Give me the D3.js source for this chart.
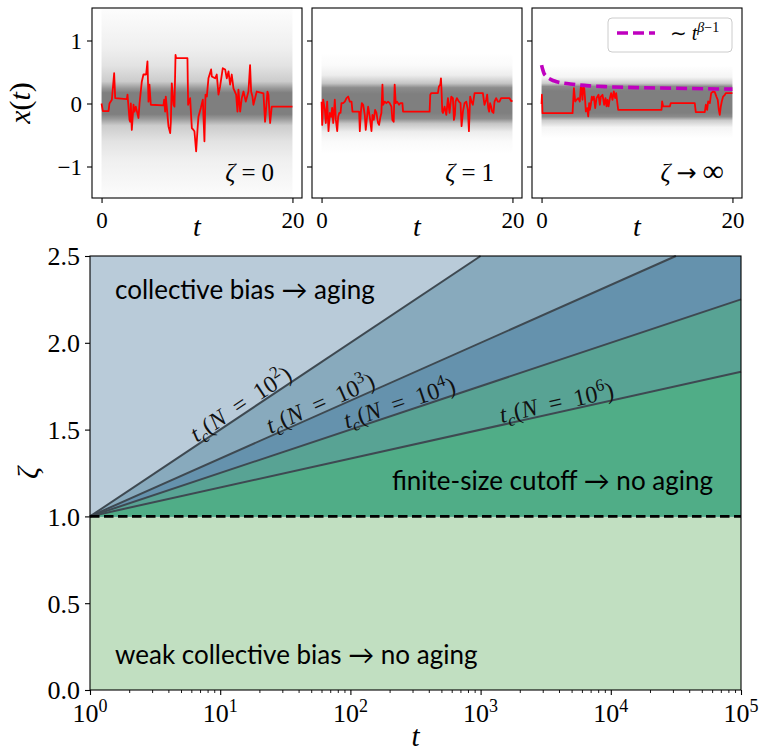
<!DOCTYPE html>
<html>
<head>
<meta charset="utf-8">
<script src="https://cdn.jsdelivr.net/npm/d3@7"></script>
<style>
  body { margin: 0; background: #fff; }
  svg, svg text { font-family: "Liberation Serif", "DejaVu Serif", serif; }
  svg text.sans { font-family: Lato, "DejaVu Sans", sans-serif; }
</style>
</head>
<body>
<div id="chart"></div>
<script>
// ---- top panels: single trajectories (t, x) ----
const traj0 = [[0,0],[0.14,-0.12],[0.73,-0.12],[0.83,0],[1.08,0.06],[1.32,0.48],[1.43,0.085],[2.65,0.07],[2.72,0.14],[2.93,-0.26],[3.0,-0.29],[3.07,0],[3.17,-0.42],[3.35,-0.02],[3.45,-0.13],[3.59,-0.05],[3.87,-0.23],[3.98,0],[4.22,0.35],[4.39,0.46],[4.67,0.46],[4.81,0.67],[4.92,0.03],[5.02,0.3],[5.16,-0.02],[6.49,-0.03],[6.56,0.06],[6.66,-0.13],[6.73,0.11],[6.84,-0.07],[7.01,-0.36],[7.19,-0.47],[7.26,-0.29],[7.36,0.32],[7.54,-0.02],[7.64,-0.05],[7.75,0.77],[7.81,0.72],[9.0,0.72],[9.07,-0.02],[9.28,0.085],[9.46,-0.39],[9.63,-0.42],[9.73,-0.44],[9.91,-0.76],[10.05,-0.42],[10.15,-0.21],[10.4,-0.07],[10.61,0.06],[10.78,-0.6],[10.89,0.14],[11.03,0.11],[11.2,0.4],[11.48,0.54],[11.55,0.43],[11.9,0.4],[12.07,0.46],[12.25,0.14],[12.42,0.27],[12.7,0.56],[12.95,0.54],[13.12,0.4],[13.3,0.51],[13.47,0.3],[13.64,0.46],[13.82,0.24],[14.1,0.14],[14.24,-0.13],[14.34,0.22],[14.52,-0.13],[14.69,0.085],[14.87,0.19],[15.11,0.03],[15.39,0.19],[15.56,0.61],[15.67,0.19],[15.81,0.11],[15.91,-0.02],[16.26,0.19],[16.96,0.16],[17.13,-0.29],[17.38,0.19],[17.48,0.14],[17.66,-0.31],[17.83,-0.05],[20,-0.05]];

const traj1 = [[0,0.03],[0.07,-0.34],[0.17,0.06],[0.35,-0.1],[0.45,-0.31],[0.59,0.03],[0.73,-0.44],[0.87,-0.15],[1.01,-0.21],[1.11,-0.07],[1.22,-0.31],[1.39,0.06],[1.5,-0.26],[1.64,-0.44],[1.74,-0.21],[1.85,-0.15],[1.99,-0.15],[2.09,0.005],[2.26,0.005],[2.44,0.03],[2.61,0.085],[2.79,0.11],[2.96,0.03],[3.14,0.03],[3.24,-0.13],[3.94,-0.13],[4.01,-0.44],[4.11,-0.15],[4.22,0.005],[4.36,-0.02],[4.53,-0.18],[4.63,-0.42],[4.77,-0.21],[4.88,-0.05],[5.05,-0.21],[5.23,-0.44],[5.33,-0.18],[5.47,-0.26],[5.61,-0.1],[5.75,-0.15],[5.92,-0.31],[6.03,-0.34],[6.17,-0.21],[6.27,-0.15],[6.38,0.3],[6.45,-0.02],[6.62,0.03],[6.79,0.005],[6.97,0.03],[7.14,0.005],[7.32,-0.05],[7.42,-0.26],[7.56,-0.29],[7.66,0.3],[7.77,0.005],[7.91,0.03],[8.12,-0.02],[8.26,0.005],[8.47,0.005],[8.54,-0.13],[11.32,-0.13],[11.39,0.14],[11.5,0.165],[12.19,0.165],[12.3,0.27],[12.44,0.3],[12.51,0.4],[12.58,0.165],[12.65,-0.13],[12.72,-0.15],[12.89,-0.05],[13.07,-0.18],[13.24,0.085],[13.41,-0.15],[13.59,0.11],[13.76,0.085],[13.87,-0.26],[13.97,-0.18],[14.04,0.03],[14.18,0.085],[14.39,0.03],[14.56,0.005],[14.67,-0.36],[14.81,-0.13],[14.98,0.005],[15.16,0.03],[15.33,-0.1],[15.44,-0.44],[15.57,0.11],[15.71,0.03],[15.85,-0.02],[16.03,0.165],[16.9,0.165],[17.07,-0.02],[17.25,0.06],[17.35,0.14],[17.46,-0.07],[17.56,-0.13],[17.66,0.005],[17.77,-0.05],[17.87,-0.13],[18.01,-0.15],[18.12,0.03],[18.29,0.085],[18.47,0.03],[18.64,0.03],[18.81,0.085],[19.69,0.085],[19.86,0.04],[20,0.04]];

const trajInf = [[0,-0.01],[0.04,0.14],[0.1,-0.153],[3.25,-0.153],[3.39,0.244],[3.53,0.032],[3.66,0.059],[3.84,0.085],[4.01,0.032],[4.12,0.27],[4.22,0.19],[4.29,0.059],[4.36,0.27],[4.47,0.244],[4.54,0.11],[4.64,-0.126],[4.78,-0.073],[4.89,-0.206],[4.99,0.006],[5.06,-0.1],[5.16,-0.02],[5.27,0.11],[5.34,0.059],[5.48,0.11],[5.62,-0.073],[5.76,0.085],[5.86,0.11],[5.97,0.138],[6.11,-0.02],[6.21,0.11],[6.39,0.138],[6.56,-0.02],[6.7,0.085],[6.81,-0.047],[6.91,0.059],[7.02,-0.047],[7.16,0.085],[7.29,0.165],[7.43,0.059],[7.57,0.191],[7.71,0.085],[7.82,0.165],[7.92,0.032],[8.03,-0.1],[12.57,-0.1],[12.63,0.032],[12.74,-0.047],[13.44,-0.047],[13.54,0.006],[16.05,0.006],[16.16,-0.137],[17.1,-0.137],[17.21,-0.02],[17.35,-0.1],[17.45,0.032],[17.63,0.006],[17.77,0.165],[17.98,0.191],[18.15,0.18],[18.32,0.11],[18.46,0.059],[18.57,-0.1],[18.67,-0.18],[18.78,-0.047],[18.88,0.032],[19.02,0.11],[19.2,0.138],[19.3,0.165],[20,0.165]];

// envelope ~ t^(beta-1), sampled from the dashed magenta curve
const envT = [0, 0.1, 0.25, 0.5, 1, 1.5, 3, 5, 7, 10, 14, 17, 20];
const envX = [0.61, 0.55, 0.48, 0.43, 0.38, 0.35, 0.31, 0.28, 0.265, 0.252, 0.242, 0.234, 0.228];

// ensemble spread: x level and grey density at that level
const band0 = [[1.5,0.02],[1.2,0.07],[0.9,0.12],[0.6,0.22],[0.35,0.4],[0.24,0.8],[0.17,1],[-0.17,1],[-0.24,0.8],[-0.35,0.4],[-0.6,0.22],[-0.9,0.12],[-1.2,0.07],[-1.5,0.02]];
const band1 = [[0.8,0],[0.6,0.04],[0.45,0.14],[0.32,0.45],[0.25,0.9],[0.15,1],[-0.15,1],[-0.24,0.9],[-0.32,0.45],[-0.45,0.14],[-0.6,0.04],[-0.8,0]];
const bandInf = [[0.6,0],[0.42,0.08],[0.32,0.4],[0.27,0.9],[0.2,1],[-0.15,1],[-0.21,0.9],[-0.27,0.4],[-0.38,0.08],[-0.55,0]];

const panelLabels = [["=", "0"], ["=", "1"], ["\u2192", "\u221e"]];
const panelTicksX = [0, 20];
const panelTicksY = [-1, 0, 1];

// ---- main phase diagram ----
const zetaTicks = [0, 0.5, 1, 1.5, 2, 2.5];
const decades = [0, 1, 2, 3, 4, 5];
const sizeExp = [2, 3, 4, 6];                     // N = 10^k
const lineEndT = [1e3, Math.pow(10, 4.5), 1e5, 1e5];   // where each t_c line leaves the frame
const lineEndZ = [2.5, 2.5, 2.25, 1.833];
const labelT = [Math.pow(10, 1.2), Math.pow(10, 1.8), Math.pow(10, 2.4), Math.pow(10, 3.6)];
const labelZ = [1.6, 1.6, 1.6, 1.6];
const regionColors = ["#b9cbd9", "#88aabd", "#6592ad", "#58a394", "#50ad87"];
const lowColor = "#c1dfc1";

const SERIF = '"Liberation Serif", "DejaVu Serif", serif';
const W = 761, H = 754;
const svg = d3.select("#chart").append("svg").attr("width", W).attr("height", H)
  .style("font-family", SERIF);
const defs = svg.append("defs");

// ================= top row =================
const panels = [
  { x0: 92, traj: traj0, band: band0 },
  { x0: 312, traj: traj1, band: band1 },
  { x0: 532, traj: trajInf, band: bandInf }
];
const pw = 210, pTop = 8, pBot = 198;

panels.forEach((p, i) => {
  const x = d3.scaleLinear().domain([-1, 21]).range([p.x0, p.x0 + pw]);
  const y = d3.scaleLinear().domain([-1.5, 1.5]).range([pBot, pTop + 1]);
  const g = svg.append("g");

  // grey cloud of trajectories
  const gid = "band" + i;
  const lo = d3.min(p.band, d => d[0]), hi = d3.max(p.band, d => d[0]);
  defs.append("linearGradient").attr("id", gid)
    .attr("gradientUnits", "userSpaceOnUse")
    .attr("x1", 0).attr("x2", 0).attr("y1", y(hi)).attr("y2", y(lo))
    .selectAll("stop").data(p.band).enter().append("stop")
      .attr("offset", d => (hi - d[0]) / (hi - lo))
      .attr("stop-color", "#7f7f7f")
      .attr("stop-opacity", d => d[1]);
  g.append("rect")
    .attr("x", x(0)).attr("width", x(20) - x(0))
    .attr("y", Math.max(y(hi), pTop)).attr("height", Math.min(y(lo), pBot) - Math.max(y(hi), pTop))
    .attr("fill", `url(#${gid})`);

  g.append("path").datum(p.traj)
    .attr("fill", "none").attr("stroke", "red").attr("stroke-width", 1.8)
    .attr("stroke-linejoin", "round")
    .attr("d", d3.line().x(d => x(d[0])).y(d => y(d[1])));

  if (i === 2) {
    g.append("path").datum(d3.zip(envT, envX))
      .attr("fill", "none").attr("stroke", "#bf00bf").attr("stroke-width", 3.6)
      .attr("stroke-dasharray", "11,5")
      .attr("d", d3.line().curve(d3.curveMonotoneX).x(d => x(d[0])).y(d => y(d[1])));
  }

  // frame
  g.append("rect").attr("x", p.x0).attr("y", pTop).attr("width", pw).attr("height", pBot - pTop)
    .attr("fill", "none").attr("stroke", "#000").attr("stroke-width", 1.1);

  // ticks
  const ax = g.append("g").attr("transform", `translate(0,${pBot})`)
    .call(d3.axisBottom(x).tickValues(panelTicksX).tickSize(5).tickPadding(5).tickFormat(d3.format("d")));
  const ay = g.append("g").attr("transform", `translate(${p.x0},0)`)
    .call(d3.axisLeft(y).tickValues(panelTicksY).tickSize(5).tickPadding(5)
      .tickFormat(i === 0 ? (d => d < 0 ? "\u2212" + Math.abs(d) : d) : ""));
  [ax, ay].forEach(a => {
    a.attr("font-family", null).attr("font-size", null);
    a.select(".domain").remove();
    a.selectAll("line").attr("stroke-width", 1.1);
    a.selectAll("text").style("font-family", SERIF).style("font-size", "23px");
  });
  ax.selectAll("text").attr("dy", null).attr("y", 30);
  ay.selectAll("text").attr("dy", "0.34em");

  g.append("text").attr("x", x(10)).attr("y", 236).attr("text-anchor", "middle")
    .style("font-size", "28px").style("font-style", "italic").text("t");

  const lab = g.append("text").attr("x", p.x0 + pw - (i === 2 ? 18 : 28)).attr("y", 181)
    .attr("text-anchor", "end").style("font-size", "25px");
  lab.append("tspan").style("font-style", "italic").text("\u03b6");
  if (i === 2) {
    lab.append("tspan").attr("dx", 6).style("font-family", '"DejaVu Sans", sans-serif')
      .style("font-size", "24px").text(panelLabels[i][0]);
    lab.append("tspan").attr("dx", 6).style("font-size", "30px").text(panelLabels[i][1]);
  } else {
    lab.append("tspan").attr("dx", 6).text(panelLabels[i][0]);
    lab.append("tspan").attr("dx", 6).text(panelLabels[i][1]);
  }
});

// y label x(t)
const xl = svg.append("text").attr("transform", "translate(30,103) rotate(-90)")
  .attr("text-anchor", "middle").style("font-size", "30px");
xl.append("tspan").style("font-style", "italic").text("x");
xl.append("tspan").text("(");
xl.append("tspan").style("font-style", "italic").text("t");
xl.append("tspan").text(")");

// legend in third panel
const lg = svg.append("g").attr("transform", "translate(608,18)");
lg.append("rect").attr("width", 124).attr("height", 34).attr("rx", 4)
  .attr("fill", "#fff").attr("fill-opacity", 0.8).attr("stroke", "#cccccc");
lg.append("line").attr("x1", 9).attr("x2", 47).attr("y1", 15).attr("y2", 15)
  .attr("stroke", "#bf00bf").attr("stroke-width", 3.6).attr("stroke-dasharray", "11,5");
const lt = lg.append("text").attr("x", 62).attr("y", 22).style("font-size", "20px");
lt.append("tspan").style("font-family", '"DejaVu Sans", sans-serif').text("\u223c");
lt.append("tspan").attr("dx", 5).style("font-style", "italic").text("t");
lt.append("tspan").attr("dy", -8).style("font-size", "14px").style("font-style", "italic").text("\u03b2");
lt.append("tspan").style("font-size", "14px").text("\u22121");

// ================= main plot =================
const mL = 90, mR = 741, mT = 256, mB = 690;
const x = d3.scaleLog().domain([1, 1e5]).range([mL, mR]);
const y = d3.scaleLinear().domain([0, 2.5]).range([mB, mT]);
const m = svg.append("g");

m.append("rect").attr("x", mL).attr("y", y(1)).attr("width", mR - mL).attr("height", y(0) - y(1)).attr("fill", lowColor);
m.append("rect").attr("x", mL).attr("y", mT).attr("width", mR - mL).attr("height", y(1) - mT).attr("fill", regionColors[0]);

// bands between successive t_c lines
const poly = d3.line().x(d => x(d[0])).y(d => y(d[1]));
sizeExp.forEach((k, i) => {
  const pts = [[1, 1], [lineEndT[i], lineEndZ[i]]];
  if (lineEndT[i] < 1e5) pts.push([1e5, 2.5]);
  pts.push([1e5, 1]);
  m.append("path").attr("d", poly(pts) + "Z").attr("fill", regionColors[i + 1]);
});
sizeExp.forEach((k, i) => {
  m.append("path").attr("d", poly([[1, 1], [lineEndT[i], lineEndZ[i]]]))
    .attr("fill", "none").attr("stroke", "#3e4951").attr("stroke-width", 2);
});

// line labels
sizeExp.forEach((k, i) => {
  const ang = Math.atan2(y(lineEndZ[i]) - y(1), x(lineEndT[i]) - x(1)) * 180 / Math.PI;
  const t = m.append("text")
    .attr("transform", `translate(${x(labelT[i])},${y(labelZ[i])}) rotate(${ang})`)
    .attr("text-anchor", "middle").attr("y", -2).style("font-size", "24px").attr("fill", "#111");
  t.append("tspan").style("font-style", "italic").text("t");
  t.append("tspan").attr("dy", 5).style("font-size", "17px").style("font-style", "italic").text("c");
  t.append("tspan").attr("dy", -5).text("(");
  t.append("tspan").style("font-style", "italic").text("N");
  t.append("tspan").text("\u2002=\u200210");
  t.append("tspan").attr("dy", -10).style("font-size", "17px").text(k);
  t.append("tspan").attr("dy", 10).text(")");
});

m.append("line").attr("x1", mL).attr("x2", mR).attr("y1", y(1)).attr("y2", y(1))
  .attr("stroke", "#000").attr("stroke-width", 2.8).attr("stroke-dasharray", "9.5,4.5");

// region annotations
m.append("text").attr("class", "sans").attr("x", 115).attr("y", 299).style("font-size", "26px")
  .text("collective bias \u2192 aging");
m.append("text").attr("class", "sans").attr("x", 713).attr("y", 490).attr("text-anchor", "end").style("font-size", "26px")
  .text("finite-size cutoff \u2192 no aging");
m.append("text").attr("class", "sans").attr("x", 115).attr("y", 664).style("font-size", "26px")
  .text("weak collective bias \u2192 no aging");

m.append("rect").attr("x", mL).attr("y", mT).attr("width", mR - mL).attr("height", mB - mT)
  .attr("fill", "none").attr("stroke", "#000").attr("stroke-width", 1.1);

// axes
const ay = m.append("g").attr("transform", `translate(${mL},0)`)
  .call(d3.axisLeft(y).tickValues(zetaTicks).tickSize(5).tickPadding(5).tickFormat(d3.format(".1f")));
ay.attr("font-family", null).attr("font-size", null);
ay.select(".domain").remove();
ay.selectAll("line").attr("stroke-width", 1.1);
ay.selectAll("text").attr("dy", "0.34em").style("font-family", SERIF).style("font-size", "26px");

const isDecade = v => Math.abs(Math.log10(v) - Math.round(Math.log10(v))) < 1e-6;
const axm = m.append("g").attr("transform", `translate(0,${mB})`)
  .call(d3.axisBottom(x).tickValues(x.ticks().filter(v => !isDecade(v))).tickSize(3).tickFormat(""));
axm.select(".domain").remove();
axm.selectAll("line").attr("stroke-width", 0.9);
const axM = m.append("g").attr("transform", `translate(0,${mB})`)
  .call(d3.axisBottom(x).tickValues(decades.map(d => Math.pow(10, d))).tickSize(5).tickFormat(""));
axM.select(".domain").remove();
axM.selectAll("line").attr("stroke-width", 1.1);

decades.forEach(d => {
  const t = m.append("text").attr("x", x(Math.pow(10, d))).attr("y", 722)
    .attr("text-anchor", "middle").style("font-size", "26px");
  t.append("tspan").text("10");
  t.append("tspan").attr("dy", -10).style("font-size", "18px").text(d);
});

m.append("text").attr("x", (mL + mR) / 2).attr("y", 746).attr("text-anchor", "middle")
  .style("font-size", "29px").style("font-style", "italic").text("t");
m.append("text").attr("transform", `translate(38,${(mT + mB) / 2}) rotate(-90)`)
  .attr("text-anchor", "middle").style("font-size", "30px").style("font-style", "italic").text("\u03b6");
</script>
</body>
</html>
